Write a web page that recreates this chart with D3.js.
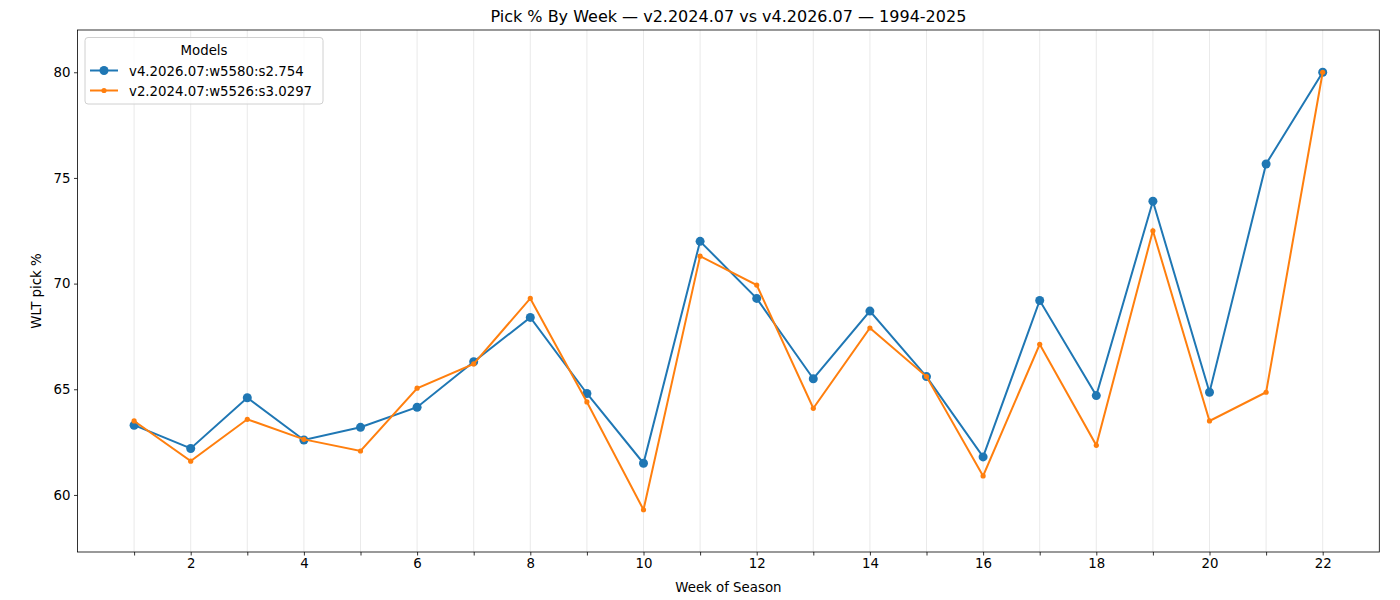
<!DOCTYPE html>
<html><head><meta charset="utf-8">
<script src="https://cdn.jsdelivr.net/npm/d3@7"></script>
<style>
body{margin:0;background:#fff;}
svg{font-family:"DejaVu Sans",sans-serif;}
</style></head>
<body><svg id="c" width="1400" height="600"></svg>
<script>
const weeks = d3.range(1, 23);
const seriesNames = ["v4.2026.07:w5580:s2.754", "v2.2024.07:w5526:s3.0297"];
const v4Values = [63.3,62.2,64.6,62.6,63.2,64.15,66.3,68.4,64.8,61.5,72.0,69.3,65.5,68.7,65.6,61.8,69.2,64.7,73.9,64.86,75.66,80.0];
const v2Values = [63.5,61.6,63.58,62.63,62.08,65.05,66.2,69.3,64.4,59.3,71.3,69.93,64.1,67.9,65.6,60.9,67.13,62.35,72.5,63.5,64.86,80.0];
const yTicks = [60,65,70,75,80];
const xTickLabels = [2,4,6,8,10,12,14,16,18,20,22];
const title = "Pick % By Week \u2014 v2.2024.07 vs v4.2026.07 \u2014 1994-2025";

const svg = d3.select("#c");
const L=77.5, R=1379.3, T=30, B=552;
const x = d3.scaleLinear().domain([0, 23]).range([L, R]);
const y = d3.scaleLinear().domain([57.3, 82.0]).range([B, T]);

// grid
svg.append("g").selectAll("line").data(weeks).join("line")
  .attr("x1", d=>x(d)).attr("x2", d=>x(d)).attr("y1", T).attr("y2", B)
  .attr("stroke", "#e5e5e5").attr("stroke-width", 0.8);

// axes
const xAxis = d3.axisBottom(x).tickValues(weeks).tickSize(3.5).tickPadding(3.5)
  .tickFormat(d => xTickLabels.includes(d) ? d : "");
const gx = svg.append("g").attr("transform", `translate(0,${B})`).call(xAxis);
const yAxis = d3.axisLeft(y).tickValues(yTicks).tickSize(3.5).tickPadding(3.5);
const gy = svg.append("g").attr("transform", `translate(${L},0)`).call(yAxis);
[gx, gy].forEach(g => {
  g.select(".domain").remove();
  g.selectAll("text").attr("font-size", 13.33).attr("fill", "#000").attr("font-family", "DejaVu Sans");
  g.selectAll("line").attr("stroke", "#000").attr("stroke-width", 0.8);
});

// frame
svg.append("rect").attr("x", L).attr("y", T).attr("width", R-L).attr("height", B-T)
  .attr("fill", "none").attr("stroke", "#000").attr("stroke-width", 0.8);

const line = d3.line().x((d,i)=>x(weeks[i])).y(d=>y(d));
const data = [
  {name: seriesNames[0], vals: v4Values, color: "#1f77b4", r: 4.5},
  {name: seriesNames[1], vals: v2Values, color: "#ff7f0e", r: 2.6}
];
data.forEach(s => {
  svg.append("path").datum(s.vals).attr("d", line).attr("fill", "none")
    .attr("stroke", s.color).attr("stroke-width", 2);
  svg.append("g").selectAll("circle").data(s.vals).join("circle")
    .attr("cx", (d,i)=>x(weeks[i])).attr("cy", d=>y(d)).attr("r", s.r).attr("fill", s.color);
});

// title and labels
svg.append("text").attr("x", (L+R)/2).attr("y", 22).attr("text-anchor", "middle")
  .attr("font-size", 16).text(title);
svg.append("text").attr("x", (L+R)/2).attr("y", 592).attr("text-anchor", "middle")
  .attr("font-size", 13.33).text("Week of Season");
svg.append("text").attr("transform", `translate(41,${(T+B)/2}) rotate(-90)`).attr("text-anchor", "middle")
  .attr("font-size", 13.33).text("WLT pick %");

// legend
const lg = svg.append("g").attr("transform", "translate(85,37.5)");
lg.append("rect").attr("width", 238).attr("height", 66.5).attr("rx", 3)
  .attr("fill", "#fff").attr("fill-opacity", 0.8).attr("stroke", "#d0d0d0");
lg.append("text").attr("x", 119).attr("y", 17).attr("text-anchor", "middle").attr("font-size", 13.33).text("Models");
data.forEach((s, i) => {
  const yy = 33 + i*20;
  lg.append("line").attr("x1", 5).attr("x2", 33).attr("y1", yy).attr("y2", yy).attr("stroke", s.color).attr("stroke-width", 2);
  lg.append("circle").attr("cx", 19).attr("cy", yy).attr("r", s.r).attr("fill", s.color);
  lg.append("text").attr("x", 44).attr("y", yy + 5).attr("font-size", 13.33).text(s.name);
});
</script></body></html>
